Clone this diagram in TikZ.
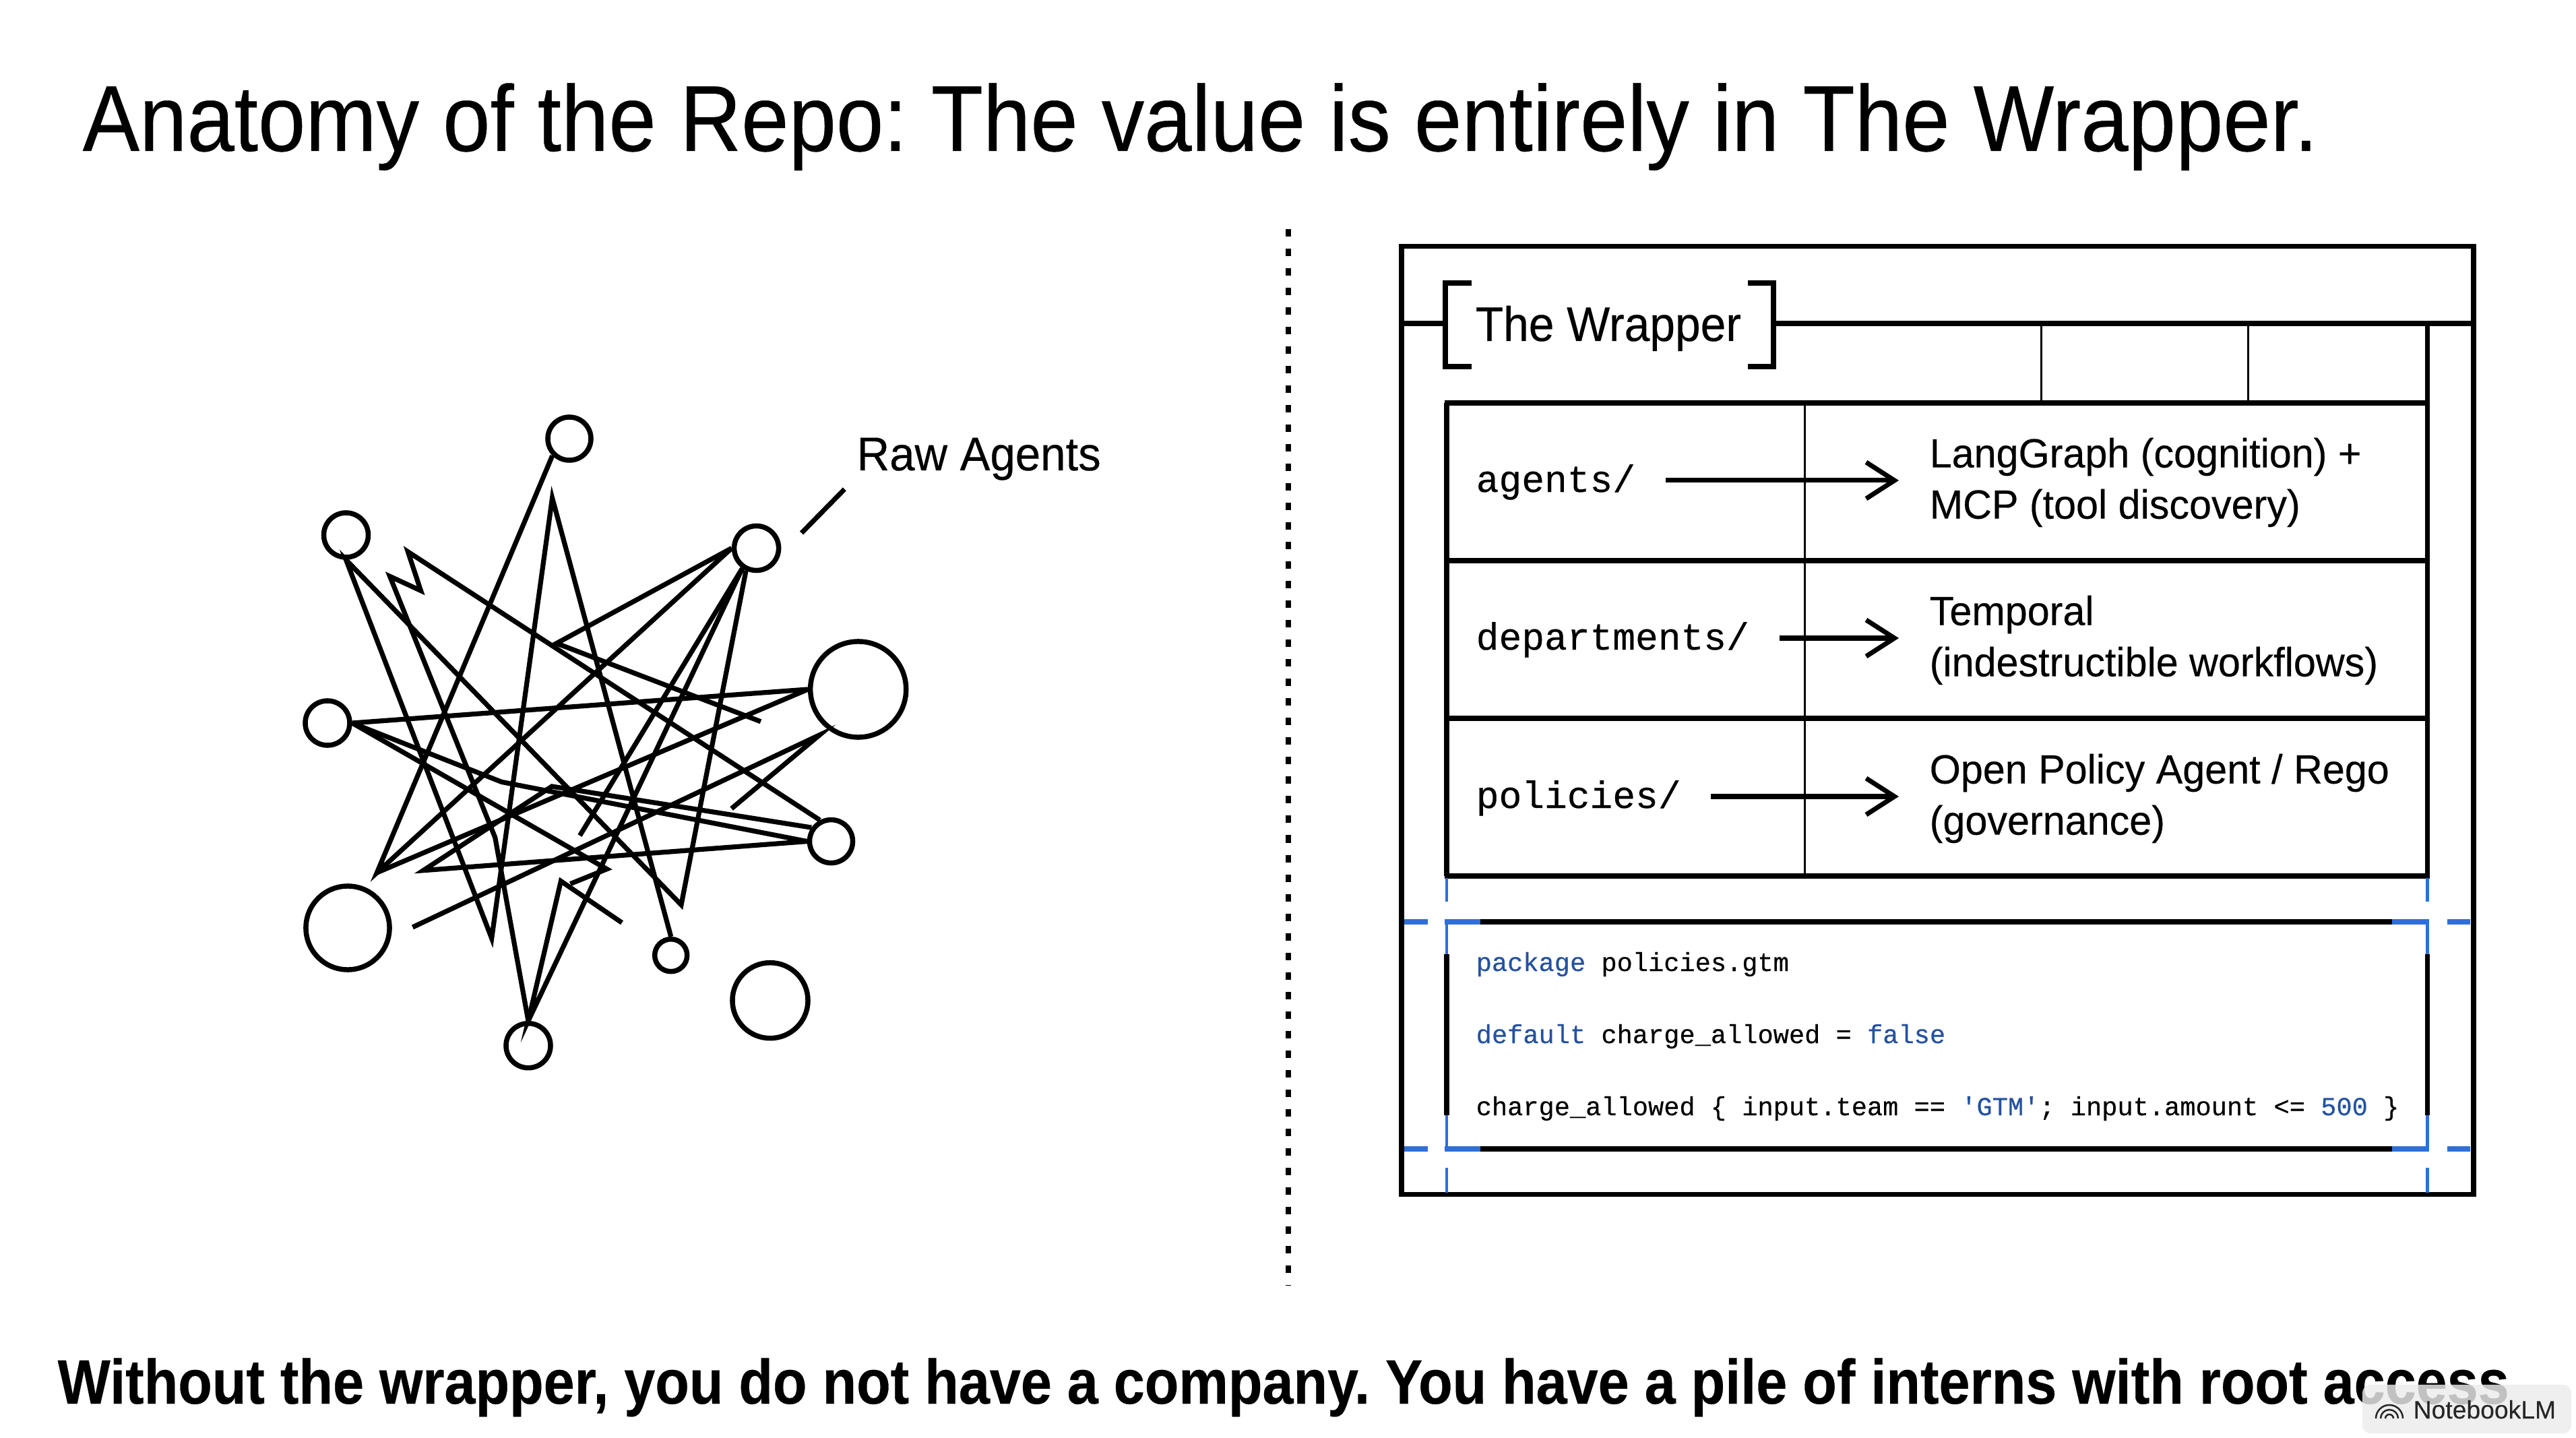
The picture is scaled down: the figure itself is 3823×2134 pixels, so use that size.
\documentclass[tikz,border=0pt]{standalone}
\usepackage{fontspec}
\setmainfont[FakeBold=.3]{Liberation Sans}
\newfontfamily\codefont[FakeBold=.4]{Liberation Mono}
\usetikzlibrary{arrows.meta}
\definecolor{gridblue}{HTML}{2F6FD8}
\definecolor{keyblue}{HTML}{24529F}
\newcommand{\squeeze}[1]{\addfontfeature{FakeStretch=#1}}
\tikzset{
  agent/.style={circle,draw,line width=.075cm,inner sep=0pt,minimum size=#1},
  wire/.style={line width=.072cm,line join=miter},
  heavy/.style={line width=.072cm},
  thin rule/.style={line width=.03cm},
  blue rule/.style={gridblue,line width=.045cm},
  blue bar/.style={gridblue,line width=.08cm},
  folder/.style={font=\codefont\fontsize{16}{20}\selectfont,anchor=west,inner xsep=.44cm,inner ysep=0pt,text height=.45cm,text depth=.11cm},
  tool/.style={font=\fontsize{17.2}{21.6}\selectfont\squeeze{.98},anchor=west,align=left,inner xsep=.45cm,inner ysep=0pt},
  code/.style={font=\codefont\fontsize{11}{13}\selectfont,anchor=base west,inner sep=0pt},
  flow/.style={line width=.07cm,-{Straight Barb[length=.42cm,width=.54cm,line width=.07cm]}}
}
\newcommand{\kw}[1]{\textcolor{keyblue}{#1}}
\begin{document}
\frenchspacing
\begin{tikzpicture}[x=.01cm,y=-.01cm]
  \useasboundingbox (0,0) rectangle (3823,2134);
  \fill[white] (0,0) rectangle (3823,2134);
  \node[anchor=base west,inner sep=0pt,font=\fontsize{39.5}{46}\selectfont\squeeze{.911}](title)at(122,224){Anatomy of the Repo: The value is entirely in The Wrapper.};
  \draw[line width=.08cm,dash pattern=on .11cm off .18cm](1912,340)--(1912,1908);
  % the tangle
  \node[agent=.64cm](top)at(845,651){};
  \node[agent=.66cm](upleft)at(513.5,794){};
  \node[agent=.66cm](upright)at(1122.6,813.5){};
  \node[agent=1.42cm](bigright)at(1273.7,1023){};
  \node[agent=.66cm](midleft)at(486,1073){};
  \node[agent=.64cm](midright)at(1233.5,1248.6){};
  \node[agent=1.24cm](bigleft)at(516,1377){};
  \node[agent=.48cm](small)at(995.7,1417.7){};
  \node[agent=1.12cm](lowright)at(1143,1484.7){};
  \node[agent=.66cm](bottom)at(784,1551.7){};
  \coordinate(a)at(559.4,1295);
  \coordinate(b)at(819.6,739);
  \coordinate(c)at(729.7,1392.5);
  \coordinate(d)at(1011,1342.8);
  \coordinate(e)at(605.4,818.8);
  \coordinate(f)at(624.5,876.5);
  \coordinate(g)at(578.6,855.3);
  \coordinate(h)at(734.8,1243);
  \coordinate(i)at(826,954.7);
  \coordinate(j)at(1129,1070.8);
  \coordinate(k)at(860.5,1240);
  \coordinate(l)at(819,1167);
  \coordinate(m)at(628.3,1291.7);
  \coordinate(n)at(744.4,1160.4);
  \coordinate(o)at(900.6,1289.7);
  \coordinate(p)at(846.4,1311.6);
  \coordinate(q)at(832.4,1307.6);
  \coordinate(r)at(923,1369.3);
  \coordinate(s)at(612.4,1376);
  \coordinate(t)at(1216.3,1090.7);
  \coordinate(u)at(1085.6,1200);
  \draw[wire](top.-135)--(a)--(upright.west);
  \draw[wire](a)--(bigright.west);
  \draw[wire](small.north)--(b)--(c)--(upleft.south)--(d)--(upright.-115);
  \draw[wire](midright.118)--(e)--(f)--(g)--(h)--(bottom.north);
  \draw[wire](upright.west)--(i)--(j);
  \draw[wire](upright.-125)--(k);
  \draw[wire](upright.-125)--(bottom.north)--(q)--(r);
  \draw[wire](midleft.east)--(bigright.west);
  \draw[wire](midleft.east)--(n)--(midright.west);
  \draw[wire](midleft.east)--(o)--(p);
  \draw[wire](midright.west)--(m)--(l)--(midright.145);
  \draw[wire](s)--(t)--(u);
  \node[anchor=base west,inner sep=0pt,font=\fontsize{20}{24}\selectfont\squeeze{.955}](raw)at(1271,698){Raw Agents};
  \coordinate(rawa)at(1253.3,726);
  \coordinate(rawb)at(1189.5,791);
  \draw[wire](rawa)--(rawb);
  % the wrapper
  \draw[heavy](2080,365.5) rectangle (3671,1772.5);
  \draw[heavy](2080,480)--(2145,480);
  \draw[heavy](2632,480)--(3671,480);
  \draw[heavy](2184,420)--(2145,420)--(2145,544)--(2184,544);
  \draw[heavy](2594,420)--(2632,420)--(2632,544)--(2594,544);
  \node[anchor=base west,inner sep=0pt,font=\fontsize{20.5}{24}\selectfont\squeeze{.94}](wrapper)at(2189,506){The Wrapper};
  \draw[heavy](3602.6,480)--(3602.6,1300);
  \draw[heavy](2147,598)--(2147,1300);
  \foreach \y in {598,832,1066,1300}
    \draw[heavy](2144,\y)--(3605.6,\y);
  \foreach \x in {3029,3336}
    \draw[thin rule](\x,480)--(\x,598);
  \draw[thin rule](2678,598)--(2678,1300);
  \node[folder](agents)at(2146,713){agents/};
  \node[tool](lang)at(2818,716){LangGraph (cognition) +\\MCP (tool discovery)};
  \draw[flow](agents.east)--(lang.west|-agents.east);
  \node[folder](depts)at(2146,947){departments/};
  \node[tool](temporal)at(2818,950){Temporal\\(indestructible workflows)};
  \draw[flow](depts.east)--(temporal.west|-depts.east);
  \node[folder](policies)at(2146,1182){policies/};
  \node[tool](opa)at(2818,1185){Open Policy Agent / Rego\\(governance)};
  \draw[flow](policies.east)--(opa.west|-policies.east);
  % code box
  \foreach \y in {1368,1704.5}{
    \draw[line width=.08cm](2197,\y)--(3550,\y);
    \draw[blue bar](2144,\y)--(2197,\y);
    \draw[blue bar](3550,\y)--(3605,\y);
    \draw[blue bar](2084,\y)--(2119,\y);
    \draw[blue bar](3632,\y)--(3666,\y);
  }
  \draw[heavy](2147,1416)--(2147,1655);
  \draw[heavy](3602.6,1416)--(3602.6,1655);
  \foreach \x in {2147,3602.6}{
    \draw[blue rule](\x,1303)--(\x,1338);
    \draw[blue rule](\x,1368)--(\x,1416);
    \draw[blue rule](\x,1655)--(\x,1704);
    \draw[blue rule](\x,1733)--(\x,1770);
  }
  \node[code](pkg)at(2190,1441){\kw{package} policies.gtm};
  \node[code](dflt)at(2190,1548){\kw{default} charge\_allowed = \kw{false}};
  \node[code](rule)at(2190,1655){charge\_allowed \{ input.team == \kw{'GTM'}; input.amount <= \kw{500} \}};
  % footer
  \node[anchor=base west,inner sep=0pt,font=\bfseries\fontsize{26.5}{30}\selectfont\squeeze{.888}](foot)at(85,2083){Without the wrapper, you do not have a company. You have a pile of interns with root access};
  \node[draw=none,fill=gray!15,fill opacity=.82,rounded corners=.12cm,minimum width=3.1cm,minimum height=.72cm,inner sep=0pt](badge)at(3661,2091){};
  \node[anchor=base west,inner sep=0pt,font=\fontsize{10.6}{12}\selectfont,text=black!85](lm)at(3581,2105){NotebookLM};
  \foreach \r in {6,13,20}
    \draw[line width=.025cm,black!85](3546-\r,2105) arc(180:360:\r);
\end{tikzpicture}
\end{document}
